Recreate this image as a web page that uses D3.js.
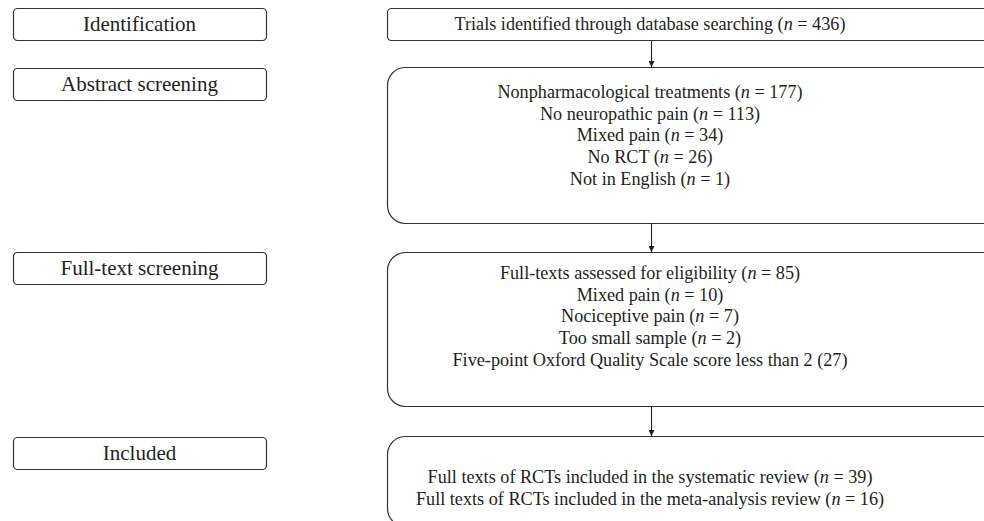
<!DOCTYPE html>
<html>
<head>
<meta charset="utf-8">
<script src="https://cdn.jsdelivr.net/npm/d3@7"></script>
<style>
  body { margin: 0; background: #fff; }
  svg text { font-family: "Liberation Serif", "DejaVu Serif", serif; fill: #231f20; }
</style>
</head>
<body>
<div id="chart-area"></div>
<script>
// stage names shown in the small boxes on the left
var stages = ["Identification", "Abstract screening", "Full-text screening", "Included"];

// records identified
var identifiedLabel = "Trials identified through database searching";
var identifiedCount = 436;

// abstract screening exclusions
var abstractReasons = ["Nonpharmacological treatments", "No neuropathic pain", "Mixed pain", "No RCT", "Not in English"];
var abstractCounts = [177, 113, 34, 26, 1];

// full-text screening
var fullTextReasons = ["Full-texts assessed for eligibility", "Mixed pain", "Nociceptive pain", "Too small sample", "Five-point Oxford Quality Scale score less than 2"];
var fullTextCounts = [85, 10, 7, 2, 27];
var fullTextItalicN = [true, true, true, true, false];

// included
var includedLabels = ["Full texts of RCTs included in the systematic review", "Full texts of RCTs included in the meta-analysis review"];
var includedCounts = [39, 16];

var width = 984, height = 521;

var svg = d3.select("#chart-area")
    .append("svg")
    .attr("width", width)
    .attr("height", height);

// each stage: list of [label, count, italic n?]
var boxes = [
    [[identifiedLabel, identifiedCount, true]],
    abstractReasons.map(function(d, i) { return [d, abstractCounts[i], true]; }),
    fullTextReasons.map(function(d, i) { return [d, fullTextCounts[i], fullTextItalicN[i]]; }),
    includedLabels.map(function(d, i) { return [d, includedCounts[i], true]; })
];

// layout of the flow column (right)
var boxTop = [8, 67, 252, 436],
    boxBottom = [40, 223, 406, 526],
    boxRadius = [4, 18, 18, 18],
    firstLine = [24, 92, 273, 477];   // centre of first text line
var boxLeft = 387, boxRight = 1010, arrowX = 651, textX = 650;
var lineH = 21.7;

// layout of the stage column (left)
var stageTop = [8, 68, 252, 437];
var stageLeft = 13, stageW = 253, stageH = 32;

var stroke = "#333";

// left stage boxes
var stageG = svg.selectAll("g.stage")
    .data(stages)
    .enter().append("g")
    .attr("class", "stage");

stageG.append("rect")
    .attr("x", stageLeft + 0.5)
    .attr("y", function(d, i) { return stageTop[i] + 0.5; })
    .attr("width", stageW)
    .attr("height", stageH)
    .attr("rx", 4)
    .attr("fill", "none")
    .attr("stroke", stroke)
    .attr("stroke-width", 1.2);

stageG.append("text")
    .attr("x", stageLeft + stageW / 2)
    .attr("y", function(d, i) { return stageTop[i] + 22.5; })
    .attr("text-anchor", "middle")
    .style("font-size", "21px")
    .text(function(d) { return d; });

// right flow boxes
var flowG = svg.selectAll("g.flow")
    .data(boxes)
    .enter().append("g")
    .attr("class", "flow");

flowG.append("rect")
    .attr("x", boxLeft + 0.5)
    .attr("y", function(d, i) { return boxTop[i] + 0.5; })
    .attr("width", boxRight - boxLeft)
    .attr("height", function(d, i) { return boxBottom[i] - boxTop[i]; })
    .attr("rx", function(d, i) { return boxRadius[i]; })
    .attr("fill", "none")
    .attr("stroke", stroke)
    .attr("stroke-width", 1.2);

flowG.each(function(lines, i) {
    var g = d3.select(this);
    lines.forEach(function(l, j) {
        var t = g.append("text")
            .attr("x", textX)
            .attr("y", firstLine[i] + j * lineH + 6)
            .attr("text-anchor", "middle")
            .style("font-size", "18.2px");
        if (l[2]) {
            t.append("tspan").text(l[0] + " (");
            t.append("tspan").style("font-style", "italic").text("n");
            t.append("tspan").text(" = " + l[1] + ")");
        } else {
            t.text(l[0] + " (" + l[1] + ")");
        }
    });
});

// arrows between boxes
svg.append("defs").append("marker")
    .attr("id", "arrow")
    .attr("viewBox", "0 0 10 10")
    .attr("refX", 10)
    .attr("refY", 5)
    .attr("markerWidth", 6)
    .attr("markerHeight", 6)
    .attr("markerUnits", "userSpaceOnUse")
    .attr("orient", "auto")
    .append("path")
    .attr("d", "M0,0L10,5L0,10Z")
    .attr("fill", "#231f20");

svg.selectAll("line.arrow")
    .data(d3.range(boxes.length - 1))
    .enter().append("line")
    .attr("class", "arrow")
    .attr("x1", arrowX + 0.5)
    .attr("x2", arrowX + 0.5)
    .attr("y1", function(i) { return boxBottom[i] + 0.5; })
    .attr("y2", function(i) { return boxTop[i + 1]; })
    .attr("stroke", "#231f20")
    .attr("stroke-width", 1.1)
    .attr("marker-end", "url(#arrow)");
</script>
</body>
</html>
